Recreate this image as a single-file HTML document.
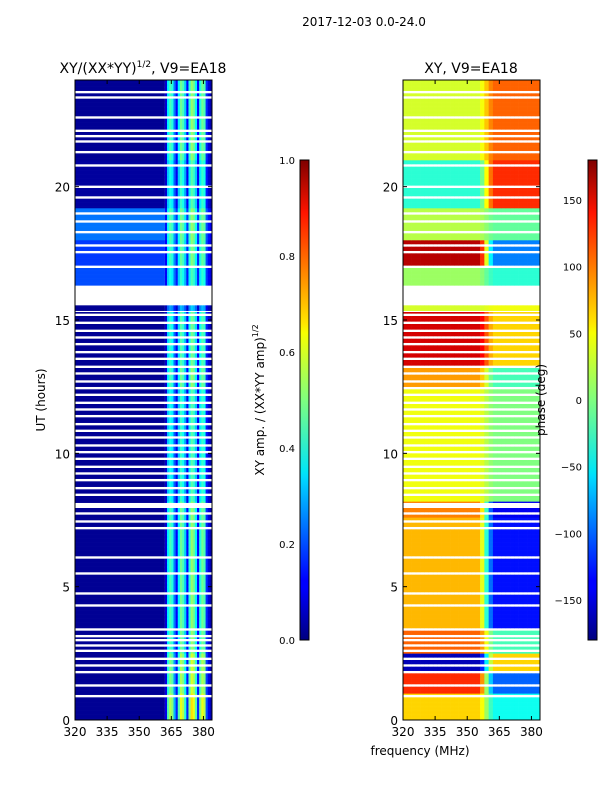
<!DOCTYPE html>
<html><head><meta charset="utf-8"><style>
body{margin:0;background:#fff;}
svg{display:block;font-family:"DejaVu Sans","Liberation Sans",sans-serif;}
</style></head><body>
<svg id="fig" width="600" height="800" viewBox="0 0 600 800">
<defs>
<linearGradient id="jet" x1="0" y1="1" x2="0" y2="0">
<stop offset="0" stop-color="#00007f"/><stop offset="0.11" stop-color="#0000ff"/><stop offset="0.125" stop-color="#0000ff"/>
<stop offset="0.34" stop-color="#00dbff"/><stop offset="0.35" stop-color="#00e5f7"/><stop offset="0.5" stop-color="#7fff7f"/>
<stop offset="0.64" stop-color="#f7ff00"/><stop offset="0.66" stop-color="#ffe600"/><stop offset="0.89" stop-color="#ff1400"/>
<stop offset="1" stop-color="#7f0000"/></linearGradient>
</defs>
<text x="364" y="26" font-size="12" text-anchor="middle">2017-12-03 0.0-24.0</text>
<text x="143" y="73" font-size="14" text-anchor="middle">XY/(XX*YY)<tspan font-size="9" dy="-6">1/2</tspan><tspan dy="6">, V9=EA18</tspan></text>
<text x="471" y="73" font-size="14" text-anchor="middle">XY, V9=EA18</text>
<g id="ampCells"></g>
<g id="phCells"></g>
<rect x="75" y="80" width="137" height="640" fill="none" stroke="#000" stroke-width="1"/>
<rect x="403" y="80" width="137" height="640" fill="none" stroke="#000" stroke-width="1"/>
<g id="axes" font-size="12"></g>
<text transform="translate(45,400) rotate(-90)" font-size="12" text-anchor="middle">UT (hours)</text>
<text x="420" y="755" font-size="12" text-anchor="middle">frequency (MHz)</text>
<text transform="translate(264,400) rotate(-90)" font-size="12" text-anchor="middle">XY amp. / (XX*YY amp)<tspan font-size="8" dy="-6">1/2</tspan></text>
<text transform="translate(545,400) rotate(-90)" font-size="12" text-anchor="middle">phase (deg)</text>
<rect x="300" y="160" width="9" height="480" fill="url(#jet)" stroke="#000" stroke-width="1"/>
<rect x="588" y="160" width="9" height="480" fill="url(#jet)" stroke="#000" stroke-width="1"/>
<g id="cbticks" font-size="10"></g>
</svg>
<script>
const freqStart = 320, freqEnd = 384;
const xTicks = [320, 335, 350, 365, 380];
const yTicks = [0, 5, 10, 15, 20];
const ampCbTicks = [0.0, 0.2, 0.4, 0.6, 0.8, 1.0];
const phCbTicks = [-150, -100, -50, 0, 50, 100, 150];
// amplitude column profile, 1 MHz bins 362..383 (below 362 uses band base)
const ampColFreqs = [362,363,364,365,366,367,368,369,370,371,372,373,374,375,376,377,378,379,380,381,382,383];
const ampColVals = [0.1,0.45,0.55,0.5,0.3,0.15,0.45,0.6,0.55,0.4,0.15,0.5,0.65,0.6,0.45,0.15,0.5,0.6,0.55,0.2,0.1,0.05];
// time bands
const bandStart = [0,1,1.8,2.5,3.4,7.6,8.2,12.5,13.3,15.35,16.3,17.0,18.0,19.2,21.0];
const bandEnd   = [1,1.8,2.5,3.4,7.6,8.2,12.5,13.3,15.35,15.55,17.0,18.0,19.2,21.0,24];
const bandAmpBase = [0.02,0.02,0.02,0.02,0.02,0.02,0.02,0.02,0.02,0.02,0.2,0.18,0.24,0.03,0.02];
const bandAmpScale = [1.0,0.9,0.9,0.8,0.8,0.8,0.7,0.8,0.75,0.5,0.6,0.7,0.7,0.7,0.8];
const bandPhaseLow = [60,120,-160,100,70,90,40,80,150,30,10,160,20,-30,30];
const bandPhaseHigh = [-40,-100,60,-20,-130,-140,0,-20,60,40,-30,-90,-10,120,100];
// flagged (blank) times
const flagTimes = [0.9,1.3,1.8,2.05,2.3,2.6,2.8,3.0,3.15,3.4,4.3,4.75,5.5,6.1,7.2,7.45,7.75,8.0,8.1,8.45,8.7,9.0,9.25,9.5,9.8,10.05,10.3,10.6,10.85,11.1,11.4,11.65,11.9,12.2,12.45,12.7,13.0,13.25,13.55,13.8,14.1,14.35,14.6,14.9,15.2,17.0,17.55,17.8,18.3,18.7,19.0,19.6,20.0,20.8,21.3,21.7,21.9,22.1,22.6,23.35,23.55];
const flagRangeStart = [15.3,15.55];
const flagRangeEnd = [15.35,16.3];

const NS = "http://www.w3.org/2000/svg";
function xs(f, x0){ return x0 + (f - freqStart) / (freqEnd - freqStart) * 137; }
function ys(h){ return 720 - h / 24 * 640; }
function jet(v){
  v = Math.max(0, Math.min(1, v));
  const r = Math.max(0, Math.min(1, 1.5 - Math.abs(4*v - 3)));
  const g = Math.max(0, Math.min(1, 1.5 - Math.abs(4*v - 2)));
  const b = Math.max(0, Math.min(1, 1.5 - Math.abs(4*v - 1)));
  return `rgb(${Math.round(r*255)},${Math.round(g*255)},${Math.round(b*255)})`;
}
function isFlagged(h){
  for (const t of flagTimes) if (Math.abs(h - t) < 0.04) return true;
  for (let i = 0; i < flagRangeStart.length; i++) if (h >= flagRangeStart[i] && h < flagRangeEnd[i]) return true;
  return false;
}
function bandOf(h){
  for (let i = 0; i < bandStart.length; i++) if (h >= bandStart[i] && h < bandEnd[i]) return i;
  return -1;
}
const ampG = document.getElementById('ampCells');
const phG = document.getElementById('phCells');
const dt = 0.05;
for (let k = 0; k < 480; k++) {
  const h = k * dt;
  const hc = h + dt/2;
  if (isFlagged(hc)) continue;
  const b = bandOf(hc);
  if (b < 0) continue;
  const y1 = ys(h + dt), y0 = ys(h);
  let r = document.createElementNS(NS, 'rect');
  r.setAttribute('x', xs(freqStart, 75)); r.setAttribute('y', y1);
  r.setAttribute('width', xs(362, 75) - 75); r.setAttribute('height', y0 - y1 + 0.3);
  r.setAttribute('fill', jet(bandAmpBase[b]));
  
  
  ampG.appendChild(r);
  for (let c = 0; c < ampColFreqs.length; c++) {
    const f = ampColFreqs[c];
    const rr = document.createElementNS(NS, 'rect');
    rr.setAttribute('x', xs(f, 75)); rr.setAttribute('y', y1);
    rr.setAttribute('width', xs(f+1, 75) - xs(f, 75) + 0.3); rr.setAttribute('height', y0 - y1 + 0.3);
    rr.setAttribute('fill', jet(ampColVals[c] * bandAmpScale[b] + bandAmpBase[b] * 0.3));
    
    
    ampG.appendChild(rr);
  }
  for (let f = freqStart; f < freqEnd; f += 2) {
    const fc = f + 1;
    let w = (fc - 356) / 6; w = Math.max(0, Math.min(1, w));
    const p = bandPhaseLow[b] * (1 - w) + bandPhaseHigh[b] * w;
    const pr = document.createElementNS(NS, 'rect');
    pr.setAttribute('x', xs(f, 403)); pr.setAttribute('y', y1);
    pr.setAttribute('width', xs(f+2, 403) - xs(f, 403) + 0.3); pr.setAttribute('height', y0 - y1 + 0.3);
    pr.setAttribute('fill', jet((p + 180) / 360));
    
    
    phG.appendChild(pr);
  }
}
const ax = document.getElementById('axes');
function line(x1,y1,x2,y2,name){
  const l = document.createElementNS(NS,'line');
  l.setAttribute('x1',x1);l.setAttribute('y1',y1);l.setAttribute('x2',x2);l.setAttribute('y2',y2);
  l.setAttribute('stroke','#000');
  
  
  ax.appendChild(l);
}
function txt(x,y,s,anchor,parent,name){
  const t = document.createElementNS(NS,'text');
  t.setAttribute('x',x);t.setAttribute('y',y);t.setAttribute('text-anchor',anchor);t.textContent=s;
  
  
  parent.appendChild(t);
}
for (const x0 of [75, 403]) {
  for (const f of xTicks) {
    const x = xs(f, x0);
    line(x,720,x,716,'x-tick'); line(x,80,x,84,'x-tick');
    txt(x,736,String(f),'middle',ax,'x-tick-label');
  }
  for (const h of yTicks) {
    const y = ys(h);
    line(x0,y,x0+4,y,'y-tick'); line(x0+137,y,x0+133,y,'y-tick');
    txt(x0-5,y+5,String(h),'end',ax,'y-tick-label');
  }
}
const cb = document.getElementById('cbticks');
for (const v of ampCbTicks) {
  const y = 640 - v * 480;
  line(300,y,303,y,'amp-colorbar-tick'); line(309,y,306,y,'amp-colorbar-tick');
  txt(295,y+4,v.toFixed(1),'end',cb,'amp-colorbar-tick-label');
}
for (const v of phCbTicks) {
  const y = 400 - v / 180 * 240;
  line(588,y,591,y,'phase-colorbar-tick'); line(597,y,594,y,'phase-colorbar-tick');
  txt(582,y+4,v<0?'\u2212'+Math.abs(v):String(v),'end',cb,'phase-colorbar-tick-label');
}
</script>
</body></html>
